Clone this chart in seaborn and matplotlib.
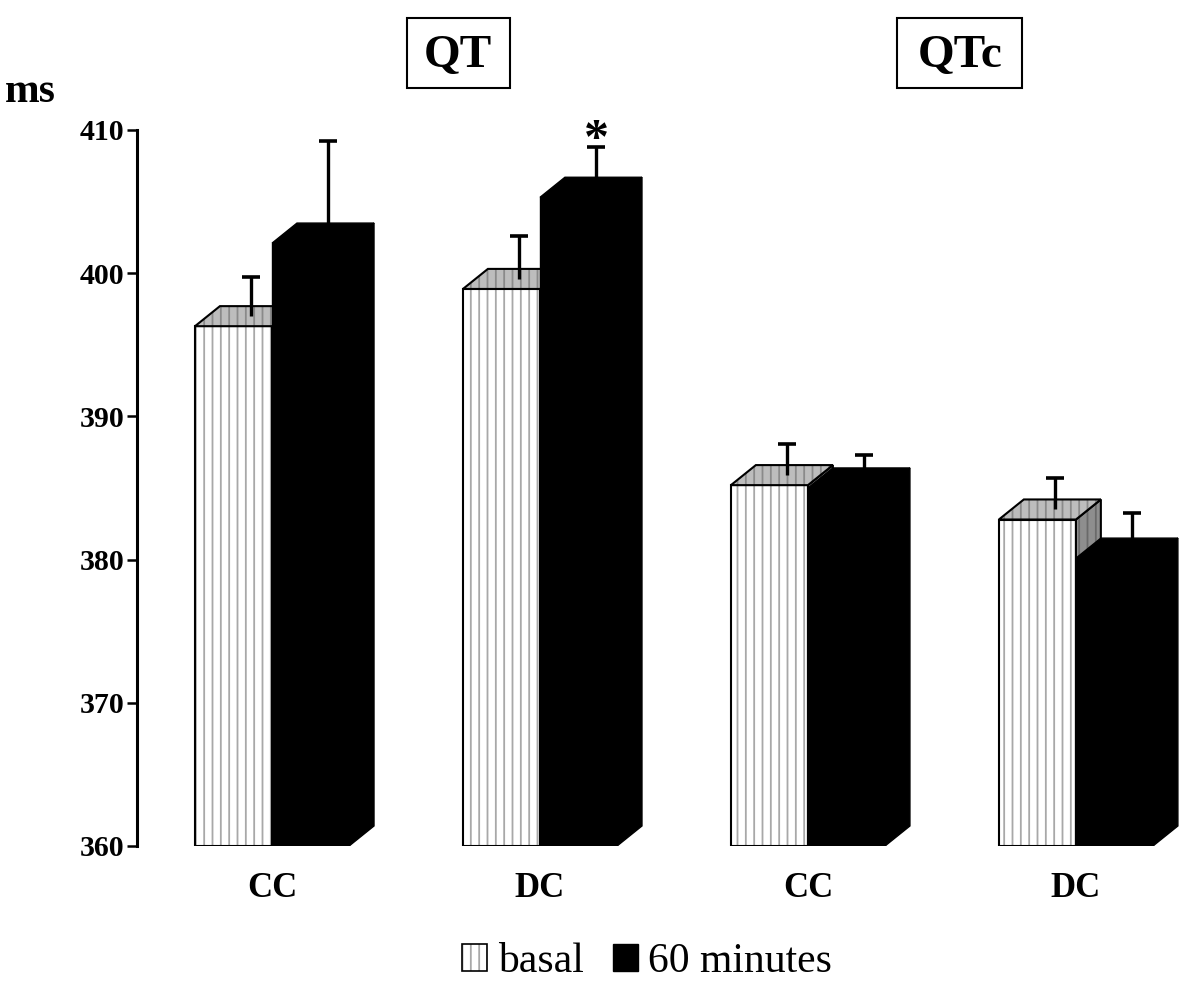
import numpy as np
import pandas as pd
import matplotlib
matplotlib.use("Agg")
import matplotlib.pyplot as plt
import seaborn as sns
from matplotlib.patches import Polygon, Rectangle, Patch

# ---------------- data ----------------
categories = ["QT CC", "QT DC", "QTc CC", "QTc DC"]
tick_labels = ["CC", "DC", "CC", "DC"]
series = ["basal", "60 minutes"]
basal = [396.3, 398.9, 385.2, 382.8]
min60 = [402.1, 405.3, 385.0, 380.1]
basal_err = [2.0, 2.3, 1.5, 1.5]
min60_err = [5.7, 2.1, 0.9, 1.75]
panel_titles = ["QT", "QTc"]
y_ticks = [360, 370, 380, 390, 400, 410]
y_label = "ms"
star_series, star_cat = 1, 1

df = pd.DataFrame({
    "group": categories * 2,
    "period": [series[0]] * len(categories) + [series[1]] * len(categories),
    "ms": basal + min60,
})
errs = [basal_err, min60_err]

# ---------------- style ----------------
sns.set_style("white")
plt.rcParams["font.family"] = ["Liberation Serif", "DejaVu Serif"]
plt.rcParams["hatch.linewidth"] = 1.3
plt.rcParams["text.color"] = "black"
plt.rcParams["xtick.color"] = "black"
plt.rcParams["ytick.color"] = "black"
plt.rcParams["axes.labelcolor"] = "black"

YMIN, YMAX = y_ticks[0], y_ticks[-1]
DX, DY = 0.093, 1.4          # 3-D depth offsets (style)
ERR_OFF = 0.065              # error bar x offset from front centre
HATCH_GRAY = "#a8a8a8"

fig = plt.figure(figsize=(12, 9.9), dpi=100)
ax = fig.add_axes([137 / 1200, 144 / 990, (1200 - 137) / 1200, (846 - 130) / 990])

sns.barplot(data=df, x="group", y="ms", hue="period", order=categories,
            hue_order=series, palette=["white", "black"], width=0.575, gap=0,
            errorbar=None, legend=False, saturation=1, ax=ax)

ax.set_ylim(YMIN, YMAX)
ax.set_xlim(-0.504, 3.463)


def face(verts, fc, hatch=None, hc=None, z=1, lw=1.5):
    if hatch:
        ax.add_patch(Polygon(verts, closed=True, facecolor=fc, edgecolor=hc,
                             lw=0, hatch=hatch, zorder=z))
        ax.add_patch(Polygon(verts, closed=True, fill=False, edgecolor="black",
                             lw=lw, zorder=z + 0.01, joinstyle="miter"))
    else:
        ax.add_patch(Polygon(verts, closed=True, facecolor=fc, edgecolor="black",
                             lw=lw, zorder=z, joinstyle="miter"))


bar_containers = [c for c in ax.containers if hasattr(c, "patches")]
for si, cont in enumerate(bar_containers):
    zbase = 1 + si
    for ci, p in enumerate(cont.patches):
        val = p.get_height()
        x0, w = p.get_x(), p.get_width()
        p.set_y(YMIN)
        p.set_height(val - YMIN)
        p.set_zorder(zbase)
        top = [(x0, val), (x0 + DX, val + DY), (x0 + w + DX, val + DY), (x0 + w, val)]
        side = [(x0 + w, YMIN), (x0 + w + DX, YMIN + DY), (x0 + w + DX, val + DY), (x0 + w, val)]
        if si == 0:
            p.set_facecolor("white")
            p.set_edgecolor(HATCH_GRAY)
            p.set_hatch("||")
            p.set_linewidth(0)
            ax.add_patch(Rectangle((x0, YMIN), w, val - YMIN, fill=False,
                                   edgecolor="black", lw=1.5, zorder=zbase + 0.05))
            face(side, "#8e8e8e", "||", "#6a6a6a", z=zbase + 0.2)
            face(top, "#bdbdbd", "||", "#8a8a8a", z=zbase + 0.3)
        else:
            p.set_facecolor("black")
            p.set_edgecolor("black")
            p.set_linewidth(1)
            face(side, "black", z=zbase + 0.2, lw=1)
            face(top, "black", z=zbase + 0.3, lw=1)
        ex = x0 + w / 2 + ERR_OFF
        e = errs[si][ci]
        tip = val + DY + e
        ax.vlines(ex, val + DY / 2, tip, color="black", lw=2.4, zorder=4)
        ax.plot([ex], [tip], marker="_", markersize=13, mew=2.6, color="black", zorder=4)
        if si == star_series and ci == star_cat:
            ax.annotate("*", xy=(ex, tip), xytext=(0, -4),
                        textcoords="offset points", ha="center", va="baseline",
                        fontsize=36, fontweight="bold")

# ---------------- axes ----------------
for s in ["top", "right", "bottom"]:
    ax.spines[s].set_visible(False)
ax.spines["left"].set_linewidth(2.2)
ax.spines["left"].set_color("black")
ax.set_yticks(y_ticks)
ax.set_yticklabels([str(t) for t in y_ticks], fontsize=21.5, fontweight="bold")
ax.tick_params(axis="y", direction="out", length=7, width=1.8, pad=2, left=True, colors="black")
ax.set_xticks(range(len(categories)))
ax.set_xticklabels(tick_labels, fontsize=25, fontweight="bold")
ax.tick_params(axis="x", length=0, pad=19)
ax.set_xlabel("")
ax.set_ylabel("")
ax.grid(False)

fig.text(5 / 1200, 1 - 92 / 990, y_label, ha="left", va="center",
         fontsize=30, fontweight="bold", color="black")

# panel title boxes
for title, cx, x0p, wp in [(panel_titles[0], 458, 407, 103), (panel_titles[1], 960, 897, 125)]:
    fig.text(cx / 1200, 1 - 56 / 990, title, ha="center", va="center",
             fontsize=34, fontweight="bold", color="black")
    fig.add_artist(Rectangle((x0p / 1200, 1 - 88 / 990), wp / 1200, 70 / 990,
                             transform=fig.transFigure, fill=False,
                             edgecolor="black", lw=1.5))

# legend
h_basal = (Patch(facecolor="white", edgecolor=HATCH_GRAY, hatch="||", lw=0),
           Patch(fill=False, edgecolor="black", lw=1.2))
h_60 = Patch(facecolor="black", edgecolor="black")
leg = fig.legend(handles=[h_basal, h_60], labels=series, loc="center",
                 bbox_to_anchor=(647 / 1200, 1 - 962 / 990), ncol=2, frameon=False,
                 fontsize=30, handlelength=0.6, handleheight=0.6, handletextpad=0.25,
                 columnspacing=0.7, borderpad=0)
for t in leg.get_texts():
    t.set_color("black")

fig.savefig("out.png", dpi=100)
